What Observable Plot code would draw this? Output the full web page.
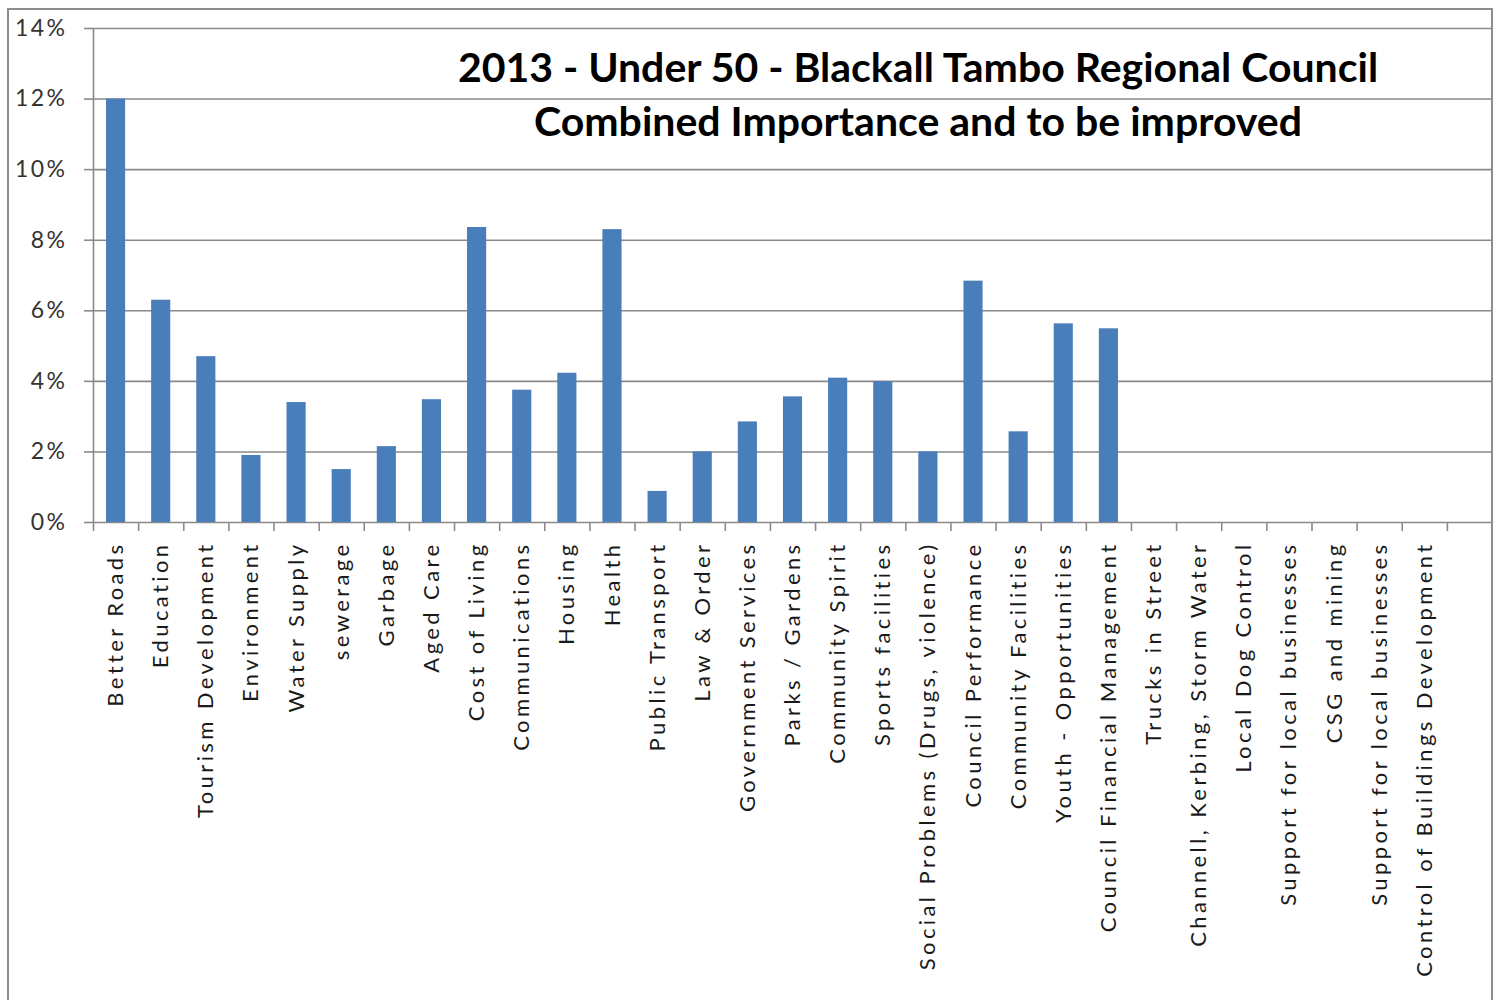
<!DOCTYPE html>
<html><head><meta charset="utf-8">
<script src="https://cdn.jsdelivr.net/npm/d3@7"></script>
<script src="https://cdn.jsdelivr.net/npm/@observablehq/plot@0.6"></script>
<style>
body{margin:0;background:#fff;}
#wrap{position:relative;width:1501px;height:1000px;overflow:hidden;}
#wrap svg{position:absolute;left:0;top:0;}
#border{position:absolute;left:7px;top:8px;width:1486px;height:1000px;border:2px solid #8c8c8c;box-sizing:border-box;}
</style></head><body><div id="wrap"><div id="border"></div></div>
<script>
const categories = [
  "Better Roads","Education","Tourism Development","Environment","Water Supply",
  "sewerage","Garbage","Aged Care","Cost of Living","Communications",
  "Housing","Health","Public Transport","Law & Order","Government Services",
  "Parks / Gardens","Community Spirit","Sports facilities","Social Problems (Drugs, violence)","Council Performance",
  "Community Facilities","Youth - Opportunities","Council Financial Management","Trucks in Street","Channell, Kerbing, Storm Water",
  "Local Dog Control","Support for local businesses","CSG and mining","Support for local businesses","Control of Buildings Development"
];
const values = [
  0.120,0.063,0.047,0.019,0.034,
  0.015,0.0215,0.0348,0.0836,0.0375,
  0.0423,0.083,0.0088,0.020,0.0285,
  0.0356,0.0409,0.0399,0.020,0.0684,
  0.0257,0.0563,0.0549,0,0,
  0,0,0,0,0
];
const yTicks = [0,0.02,0.04,0.06,0.08,0.10,0.12,0.14];
const titleLines = ["2013 - Under 50 - Blackall Tambo Regional Council","Combined Importance and to be improved"];

const slots = categories.length + 1; // Excel leaves one empty slot at the right
const data = categories.map((c,i)=>({cat:c, i, v: values[i]}));
const grey = "#8a8a8a";
const pct = d3.format(".0%");

const chart = Plot.plot({
  width: 1501, height: 1000,
  marginLeft: 93, marginRight: 9, marginTop: 28, marginBottom: 478,
  style: {fontFamily: "Lato, 'Open Sans', sans-serif", fontSize: "22px", color: "#262626", background: "transparent"},
  x: {type: "linear", domain: [0, slots], axis: null},
  y: {domain: [0, 0.14], axis: null},
  marks: [
    Plot.ruleY(yTicks, {stroke: grey, strokeWidth: 1.6, strokeOpacity: 1}),
    Plot.ruleX([0], {stroke: grey, strokeWidth: 1.6}),
    Plot.rectY(data, {x1: "i", x2: d => d.i + 1, y: "v", fill: "#4a7ebb", insetLeft: 13, insetRight: 13}),
    Plot.axisX(d3.range(0, slots), {tickSize: 9, tickFormat: () => "", stroke: grey, strokeWidth: 1.6, label: null}),
    Plot.axisY(yTicks, {tickSize: 9, tickPadding: 17, tickFormat: pct, stroke: grey, strokeWidth: 1.6, fill: "#333", fontSize: 23, label: null}),
    Plot.text(data, {x: d => d.i + 0.5, y: 0, text: "cat", rotate: -90, textAnchor: "end", lineAnchor: "middle", dy: 19, fill: "#1a1a1a", fontSize: 22}),
    Plot.text([titleLines.join("\n")], {frameAnchor: "top", dx: 125, dy: 14, lineHeight: 1.34, fontWeight: "bold", fontSize: 41, fill: "#000", lineAnchor: "top"})
  ]
});
// Excel-like loose letter spacing of the tick and category labels
d3.select(chart).selectAll("text").each(function() {
  const t = this.textContent;
  if (categories.includes(t)) d3.select(this).style("letter-spacing", "3.4px");
  else if (yTicks.map(pct).includes(t)) d3.select(this).style("letter-spacing", "2.5px");
});
document.getElementById("wrap").appendChild(chart);
</script>
</body></html>
